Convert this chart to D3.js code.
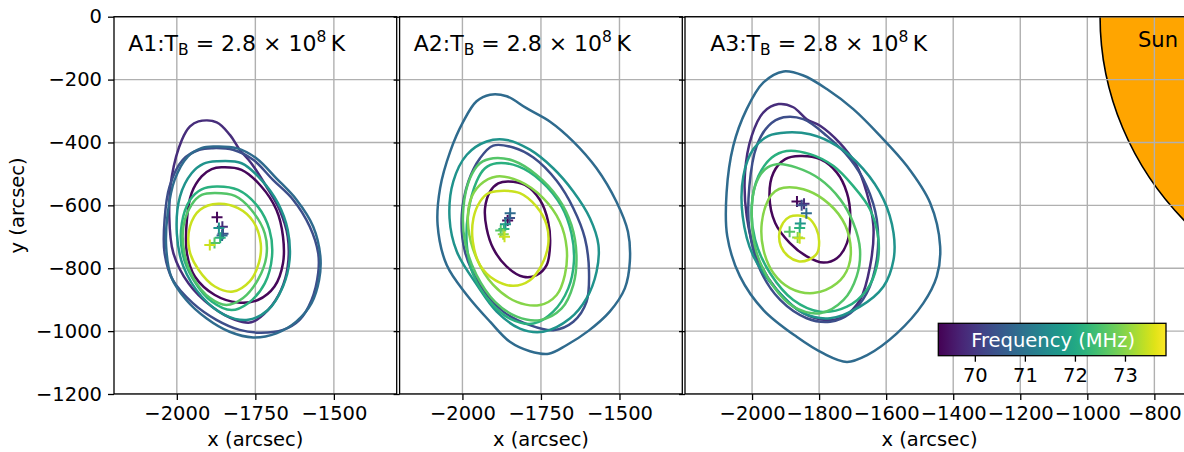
<!DOCTYPE html>
<html>
<head>
<meta charset="utf-8">
<script src="https://cdn.jsdelivr.net/npm/d3@7"></script>
<style>
  html, body { margin: 0; padding: 0; background: #fff; }
  svg { display: block; font-family: "DejaVu Sans", sans-serif; }
</style>
</head>
<body>
<svg id="chart" width="1184" height="452"></svg>
<script>
// Observing frequencies (MHz) and the colour-bar range
const frequencies = [69.35, 69.85, 70.35, 70.85, 71.6, 72.15, 72.6, 73.0, 73.45];
const freqRange = [69.27, 73.82];
const freqTicks = [70, 71, 72, 73];

// Axis ticks
const yTicks = [0, -200, -400, -600, -800, -1000, -1200];
const xTicksNarrow = [-2000, -1750, -1500];
const xTicksWide = [-2000, -1800, -1600, -1400, -1200, -1000, -800];

// Source brightness temperature per burst
const burstNames = ["A1", "A2", "A3"];
const burstTB = ["2.8", "2.8", "2.8"];
const burstTBExp = ["8", "8", "8"];

// Solar disc (arcsec)
const sunCenter = [0, 0];
const sunRadius = 962;

// Half-maximum contours: frequency index + outline points [x, y] in arcsec
const contoursA1 = [
  { f: 0, pts: [[-1858,-479],[-1794,-487],[-1731,-540],[-1683,-614],[-1662,-699],[-1662,-784],[-1689,-858],[-1742,-901],[-1805,-909],[-1879,-885],[-1942,-827],[-1968,-752],[-1968,-646],[-1953,-561],[-1921,-508],[-1889,-485]] },
  { f: 1, pts: [[-1931,-333],[-1873,-336],[-1831,-376],[-1800,-423],[-1763,-466],[-1715,-540],[-1673,-614],[-1647,-699],[-1647,-795],[-1668,-869],[-1710,-933],[-1763,-972],[-1815,-964],[-1889,-922],[-1963,-848],[-2011,-752],[-2024,-636],[-2016,-508],[-1984,-392],[-1958,-349]] },
  { f: 2, pts: [[-1885,-418],[-1821,-423],[-1757,-455],[-1694,-519],[-1630,-582],[-1577,-667],[-1550,-752],[-1550,-816],[-1571,-901],[-1609,-964],[-1662,-996],[-1736,-1005],[-1800,-996],[-1874,-964],[-1949,-911],[-2013,-837],[-2039,-752],[-2039,-646],[-2023,-540],[-1981,-455],[-1928,-423]] },
  { f: 3, pts: [[-1880,-413],[-1810,-418],[-1747,-450],[-1683,-514],[-1619,-582],[-1566,-667],[-1543,-763],[-1547,-837],[-1571,-911],[-1619,-969],[-1683,-1007],[-1757,-1020],[-1832,-1002],[-1906,-959],[-1970,-901],[-2018,-827],[-2034,-731],[-2029,-625],[-2007,-519],[-1965,-445],[-1922,-418]] },
  { f: 4, pts: [[-1873,-460],[-1794,-466],[-1731,-519],[-1678,-593],[-1647,-678],[-1641,-773],[-1662,-858],[-1710,-933],[-1773,-964],[-1847,-949],[-1921,-890],[-1979,-795],[-2000,-689],[-1990,-572],[-1953,-498],[-1916,-468]] },
  { f: 5, pts: [[-1873,-540],[-1805,-551],[-1742,-604],[-1705,-678],[-1697,-763],[-1720,-848],[-1773,-911],[-1826,-933],[-1889,-906],[-1947,-837],[-1982,-752],[-1984,-657],[-1958,-583],[-1921,-549]] },
  { f: 6, pts: [[-1879,-561],[-1815,-570],[-1763,-614],[-1720,-689],[-1715,-763],[-1742,-837],[-1789,-895],[-1842,-917],[-1894,-895],[-1947,-832],[-1976,-752],[-1979,-667],[-1953,-598],[-1921,-567]] },
  { f: 8, pts: [[-1868,-595],[-1805,-609],[-1757,-651],[-1733,-720],[-1739,-784],[-1768,-842],[-1821,-874],[-1879,-858],[-1931,-805],[-1960,-742],[-1958,-667],[-1926,-614]] }
];

const contoursA2 = [
  { f: 0, pts: [[-1854,-524],[-1801,-535],[-1753,-583],[-1727,-652],[-1721,-726],[-1732,-790],[-1764,-822],[-1806,-827],[-1859,-795],[-1902,-737],[-1923,-673],[-1928,-609],[-1912,-556],[-1886,-530]] },
  { f: 2, pts: [[-1902,-410],[-1838,-416],[-1774,-448],[-1700,-522],[-1647,-609],[-1610,-705],[-1597,-811],[-1605,-907],[-1647,-970],[-1711,-997],[-1785,-981],[-1870,-938],[-1944,-853],[-1992,-747],[-2002,-630],[-1981,-524],[-1944,-450]] },
  { f: 3, pts: [[-1912,-248],[-1859,-253],[-1796,-291],[-1722,-333],[-1647,-397],[-1573,-482],[-1510,-588],[-1473,-684],[-1467,-779],[-1483,-864],[-1531,-938],[-1600,-1000],[-1669,-1045],[-1725,-1072],[-1785,-1064],[-1849,-1034],[-1912,-970],[-1986,-885],[-2050,-790],[-2079,-662],[-2071,-545],[-2039,-429],[-1997,-333],[-1955,-269]] },
  { f: 4, pts: [[-1923,-397],[-1859,-392],[-1785,-423],[-1711,-482],[-1647,-556],[-1594,-641],[-1567,-726],[-1573,-811],[-1605,-896],[-1658,-960],[-1743,-1002],[-1817,-992],[-1891,-938],[-1954,-853],[-2018,-747],[-2041,-641],[-2029,-524],[-1986,-439]] },
  { f: 5, pts: [[-1891,-466],[-1822,-476],[-1748,-524],[-1684,-604],[-1653,-689],[-1645,-779],[-1663,-864],[-1711,-938],[-1774,-976],[-1849,-960],[-1912,-907],[-1965,-822],[-1986,-726],[-1981,-620],[-1955,-524],[-1928,-482]] },
  { f: 6, pts: [[-1902,-450],[-1838,-458],[-1764,-503],[-1695,-577],[-1653,-662],[-1637,-758],[-1647,-853],[-1684,-928],[-1753,-965],[-1827,-954],[-1896,-907],[-1955,-822],[-1992,-715],[-1997,-609],[-1976,-514],[-1944,-466]] },
  { f: 7, pts: [[-1891,-508],[-1817,-524],[-1743,-577],[-1690,-652],[-1668,-737],[-1674,-822],[-1700,-885],[-1753,-917],[-1827,-907],[-1902,-853],[-1955,-768],[-1981,-673],[-1976,-588],[-1944,-535]] },
  { f: 8, pts: [[-1880,-554],[-1817,-561],[-1764,-604],[-1732,-662],[-1727,-726],[-1748,-790],[-1785,-838],[-1838,-856],[-1896,-838],[-1944,-790],[-1967,-715],[-1965,-641],[-1944,-588],[-1917,-561]] }
];

const contoursA3 = [
  { f: 0, pts: [[-1857,-443],[-1797,-453],[-1747,-496],[-1717,-560],[-1707,-634],[-1717,-720],[-1747,-768],[-1787,-782],[-1837,-762],[-1887,-720],[-1931,-656],[-1948,-571],[-1936,-496],[-1901,-453]] },
  { f: 1, pts: [[-1921,-278],[-1877,-288],[-1837,-326],[-1797,-347],[-1740,-400],[-1690,-470],[-1658,-560],[-1638,-666],[-1648,-794],[-1678,-901],[-1727,-954],[-1777,-965],[-1847,-943],[-1926,-869],[-1986,-762],[-2016,-634],[-2021,-496],[-2001,-379],[-1966,-304]] },
  { f: 2, pts: [[-1906,-320],[-1847,-326],[-1777,-379],[-1707,-453],[-1658,-539],[-1628,-645],[-1628,-773],[-1658,-879],[-1707,-943],[-1767,-970],[-1837,-959],[-1916,-901],[-1976,-805],[-2008,-677],[-2008,-539],[-1986,-411],[-1951,-347]] },
  { f: 3, pts: [[-1906,-174],[-1847,-187],[-1777,-230],[-1698,-294],[-1618,-379],[-1538,-475],[-1469,-592],[-1439,-730],[-1449,-826],[-1489,-911],[-1568,-1007],[-1658,-1077],[-1717,-1098],[-1787,-1071],[-1867,-1018],[-1966,-933],[-2036,-826],[-2074,-698],[-2076,-560],[-2056,-411],[-2016,-294],[-1966,-209]] },
  { f: 4, pts: [[-1897,-368],[-1827,-374],[-1747,-411],[-1668,-485],[-1608,-581],[-1578,-688],[-1578,-773],[-1608,-858],[-1678,-922],[-1767,-959],[-1847,-943],[-1926,-869],[-1996,-762],[-2028,-634],[-2026,-507],[-1996,-421],[-1951,-379]] },
  { f: 5, pts: [[-1897,-427],[-1827,-437],[-1757,-475],[-1698,-539],[-1648,-613],[-1623,-709],[-1628,-794],[-1658,-869],[-1717,-922],[-1797,-938],[-1877,-901],[-1946,-816],[-1991,-709],[-2001,-603],[-1981,-507],[-1941,-448]] },
  { f: 6, pts: [[-1926,-469],[-1867,-480],[-1797,-517],[-1737,-581],[-1698,-656],[-1678,-741],[-1688,-826],[-1727,-901],[-1797,-943],[-1877,-922],[-1936,-858],[-1986,-752],[-2001,-634],[-1991,-539],[-1961,-485]] },
  { f: 7, pts: [[-1906,-544],[-1847,-549],[-1787,-581],[-1731,-645],[-1707,-720],[-1712,-794],[-1747,-848],[-1817,-879],[-1887,-863],[-1936,-816],[-1966,-741],[-1971,-656],[-1951,-581],[-1931,-555]] },
  { f: 8, pts: [[-1862,-632],[-1832,-640],[-1809,-672],[-1800,-714],[-1806,-752],[-1831,-773],[-1862,-778],[-1892,-762],[-1914,-730],[-1919,-693],[-1907,-655],[-1887,-636]] }
];

// Emission peaks: [frequency index, x, y]
const peaksA1 = [[0,-1872,-638],[1,-1855,-668],[2,-1853,-690],[3,-1856,-696],[4,-1866,-672],[5,-1862,-703],[6,-1880,-720],[8,-1895,-726]];
const peaksA2 = [[0,-1856,-648],[2,-1850,-640],[3,-1848,-625],[4,-1863,-660],[5,-1868,-675],[6,-1878,-680],[7,-1870,-692],[8,-1866,-700]];
const peaksA3 = [[0,-1866,-588],[1,-1845,-595],[2,-1852,-600],[3,-1838,-625],[4,-1856,-658],[5,-1858,-672],[6,-1888,-684],[7,-1864,-702],[8,-1858,-705]];

// ---------------------------------------------------------------- layout
const svg = d3.select("#chart");
const FONT = 19.5;
const plotTop = 16.7, plotBottom = 394;

const panels = [
  { left: 114,   right: 396.7,  xDomain: [-2200, -1300], xTicks: xTicksNarrow, contours: contoursA1, peaks: peaksA1, showY: true },
  { left: 399.6, right: 682.3,  xDomain: [-2200, -1300], xTicks: xTicksNarrow, contours: contoursA2, peaks: peaksA2, showY: false },
  { left: 685,   right: 1187.9, xDomain: [-2200, -700],  xTicks: xTicksWide,   contours: contoursA3, peaks: peaksA3, showY: false, sun: true, cbar: true }
];

const y = d3.scaleLinear().domain([-1200, 0]).range([plotBottom, plotTop]);
const color = d3.scaleSequential(d3.interpolateViridis).domain(freqRange);
const fmt = d => d3.format("d")(d).replace("-", "\u2212");

panels.forEach((p, i) => {
  const x = d3.scaleLinear().domain(p.xDomain).range([p.left, p.right]);
  const g = svg.append("g");

  const clipId = "clip" + i;
  svg.append("clipPath").attr("id", clipId)
    .append("rect").attr("x", p.left).attr("y", plotTop)
    .attr("width", p.right - p.left).attr("height", plotBottom - plotTop);

  const body = g.append("g").attr("clip-path", `url(#${clipId})`);

  // Solar disc
  if (p.sun) {
    const rx = Math.abs(x(sunRadius) - x(0));
    const ry = Math.abs(y(sunRadius) - y(0));
    body.append("ellipse")
      .attr("cx", x(sunCenter[0])).attr("cy", y(sunCenter[1]))
      .attr("rx", rx).attr("ry", ry)
      .attr("fill", "#ffa500").attr("stroke", "#000").attr("stroke-width", 1.6);
  }

  // Grid
  body.selectAll(".gx").data(p.xTicks).join("line")
    .attr("x1", d => x(d)).attr("x2", d => x(d))
    .attr("y1", plotTop).attr("y2", plotBottom)
    .attr("stroke", "#b0b0b0").attr("stroke-width", 1.4);
  body.selectAll(".gy").data(yTicks).join("line")
    .attr("x1", p.left).attr("x2", p.right)
    .attr("y1", d => y(d)).attr("y2", d => y(d))
    .attr("stroke", "#b0b0b0").attr("stroke-width", 1.4);

  // Contours
  const line = d3.line().x(d => x(d[0])).y(d => y(d[1]))
    .curve(d3.curveCatmullRomClosed.alpha(0.5));
  body.selectAll(".contour").data(p.contours).join("path")
    .attr("d", d => line(d.pts))
    .attr("fill", "none")
    .attr("stroke", d => color(frequencies[d.f]))
    .attr("stroke-width", 2.5)
    .attr("stroke-linejoin", "round");

  // Peak markers
  const arm = 5.5;
  const peaks = body.selectAll(".peak").data(p.peaks).join("g")
    .attr("stroke", d => color(frequencies[d[0]]))
    .attr("stroke-width", 2);
  peaks.append("line")
    .attr("x1", d => x(d[1]) - arm).attr("x2", d => x(d[1]) + arm)
    .attr("y1", d => y(d[2])).attr("y2", d => y(d[2]));
  peaks.append("line")
    .attr("x1", d => x(d[1])).attr("x2", d => x(d[1]))
    .attr("y1", d => y(d[2]) - arm).attr("y2", d => y(d[2]) + arm);

  // Sun label
  if (p.sun) {
    body.append("text").attr("x", 1138).attr("y", 46.5)
      .attr("font-size", 21).attr("fill", "#000").text("Sun");
  }

  // Title with mathtext-style sub/superscripts
  const t = g.append("text")
    .attr("x", p.left + 0.05 * (p.right - p.left)).attr("y", 50.5)
    .attr("font-size", 22).attr("fill", "#000")
    .style("white-space", "pre");
  t.append("tspan").text(burstNames[i] + ":T");
  t.append("tspan").attr("font-size", 15.5).attr("dy", 4.5).text("B");
  t.append("tspan").attr("dy", -4.5).text(" = " + burstTB[i] + " \u00d7 10");
  t.append("tspan").attr("font-size", 15.5).attr("dy", -9).text(burstTBExp[i]);
  t.append("tspan").attr("dy", 9).text("\u2009K");

  // Spines
  g.append("rect")
    .attr("x", p.left).attr("y", plotTop)
    .attr("width", p.right - p.left).attr("height", plotBottom - plotTop)
    .attr("fill", "none").attr("stroke", "#000").attr("stroke-width", 1.3);

  // X axis
  const xAxis = d3.axisBottom(x).tickValues(p.xTicks).tickSize(6).tickPadding(6).tickFormat(fmt);
  const gx = g.append("g").attr("transform", `translate(0,${plotBottom})`).call(xAxis);
  gx.select(".domain").remove();
  gx.selectAll(".tick line").attr("stroke", "#000").attr("stroke-width", 1.3);
  gx.selectAll(".tick text").attr("font-size", FONT).attr("font-family", "DejaVu Sans").attr("fill", "#000");
  g.append("text")
    .attr("x", (p.left + Math.min(p.right, 1184)) / 2 + (p.cbar ? -5 : 0))
    .attr("y", 446).attr("text-anchor", "middle")
    .attr("font-size", FONT).attr("fill", "#000").text("x (arcsec)");

  // Y axis
  const yAxis = d3.axisLeft(y).tickValues(yTicks).tickSize(6).tickPadding(6)
    .tickFormat(p.showY ? fmt : () => "");
  const gy = g.append("g").attr("transform", `translate(${p.left},0)`).call(yAxis);
  gy.select(".domain").remove();
  gy.selectAll(".tick line").attr("stroke", "#000").attr("stroke-width", 1.3);
  gy.selectAll(".tick text").attr("font-size", FONT).attr("font-family", "DejaVu Sans").attr("fill", "#000");

  if (p.showY) {
    g.append("text")
      .attr("transform", `translate(24,${(plotTop + plotBottom) / 2}) rotate(-90)`)
      .attr("text-anchor", "middle")
      .attr("font-size", FONT).attr("fill", "#000").text("y (arcsec)");
  }

  // Colour bar inset
  if (p.cbar) {
    const cb = { x0: 938.3, x1: 1166, y0: 323.3, y1: 355.7 };
    const cx = d3.scaleLinear().domain(freqRange).range([cb.x0, cb.x1]);
    const grad = svg.append("defs").append("linearGradient").attr("id", "viridisGrad")
      .attr("x1", "0%").attr("x2", "100%").attr("y1", "0%").attr("y2", "0%");
    d3.range(0, 1.0001, 0.05).forEach(s => {
      grad.append("stop").attr("offset", (s * 100) + "%").attr("stop-color", d3.interpolateViridis(s));
    });
    const cg = g.append("g");
    cg.append("rect").attr("x", cb.x0).attr("y", cb.y0)
      .attr("width", cb.x1 - cb.x0).attr("height", cb.y1 - cb.y0)
      .attr("fill", "url(#viridisGrad)")
      .attr("stroke", "#000").attr("stroke-width", 1.3);
    cg.append("text")
      .attr("x", (cb.x0 + cb.x1) / 2 + 1).attr("y", 346.7)
      .attr("text-anchor", "middle").attr("font-size", FONT).attr("fill", "#fff")
      .text("Frequency (MHz)");
    const cAxis = d3.axisBottom(cx).tickValues(freqTicks).tickSize(6).tickPadding(6).tickFormat(d3.format("d"));
    const ca = cg.append("g").attr("transform", `translate(0,${cb.y1})`).call(cAxis);
    ca.select(".domain").remove();
    ca.selectAll(".tick line").attr("stroke", "#000").attr("stroke-width", 1.3);
    ca.selectAll(".tick text").attr("font-size", FONT).attr("font-family", "DejaVu Sans").attr("fill", "#000");
  }
});
</script>
</body>
</html>
